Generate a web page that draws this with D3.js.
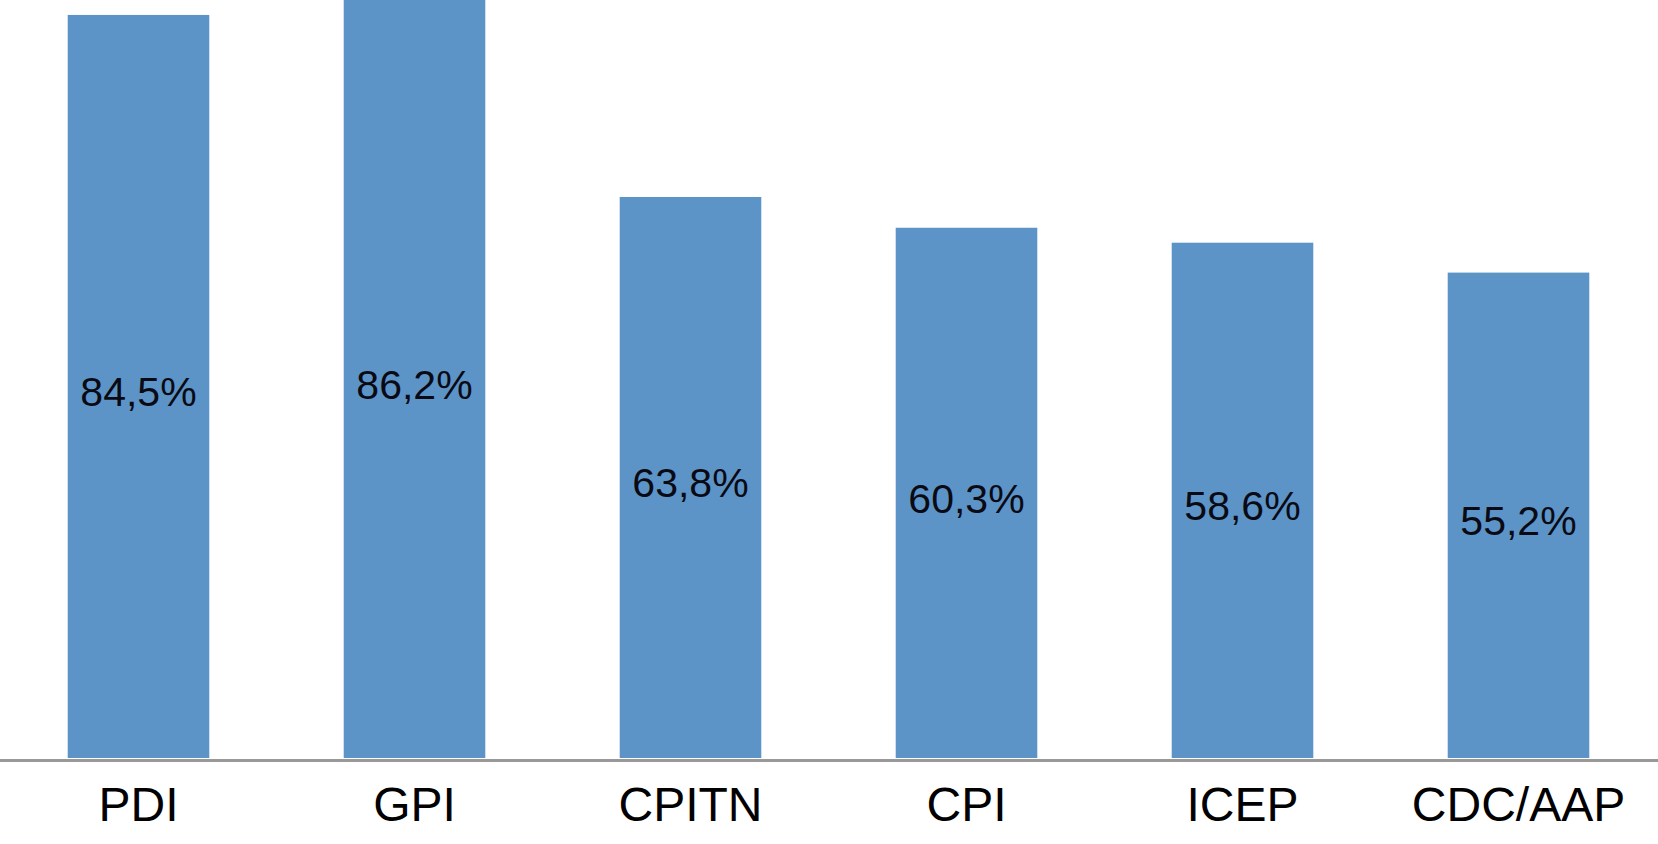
<!DOCTYPE html>
<html>
<head>
<meta charset="utf-8">
<script src="https://cdn.jsdelivr.net/npm/d3@7"></script>
<style>
  html, body { margin: 0; padding: 0; background: #fff; }
  svg { display: block; }
</style>
</head>
<body>
<script>
const categories = ["PDI", "GPI", "CPITN", "CPI", "ICEP", "CDC/AAP"];
const values = [84.5, 86.2, 63.8, 60.3, 58.6, 55.2];
const valueLabels = ["84,5%", "86,2%", "63,8%", "60,3%", "58,6%", "55,2%"];

const width = 1658, height = 844;
const baseY = 758;

const svg = d3.select("body")
  .append("svg")
  .attr("width", width)
  .attr("height", height);

const x = d3.scaleBand()
  .domain(categories)
  .range([0.5, 1656.5])
  .paddingInner(0.487)
  .paddingOuter(0.2435);

const y = d3.scaleLinear()
  .domain([0, 86.2])
  .range([baseY, 0]);

const data = categories.map((c, i) => ({ cat: c, v: values[i], label: valueLabels[i] }));

svg.selectAll("rect.bar")
  .data(data)
  .join("rect")
  .attr("class", "bar")
  .attr("x", d => x(d.cat))
  .attr("width", x.bandwidth())
  .attr("y", d => y(d.v))
  .attr("height", d => baseY - y(d.v))
  .attr("fill", "#5d94c7");

// value labels in the middle of each bar
svg.selectAll("text.val")
  .data(data)
  .join("text")
  .attr("class", "val")
  .attr("x", d => x(d.cat) + x.bandwidth() / 2)
  .attr("y", d => (y(d.v) + baseY) / 2 + 20)
  .attr("text-anchor", "middle")
  .style("font-family", "Liberation Sans, Arial, sans-serif")
  .style("font-size", "41px")
  .attr("fill", "#0a0a14")
  .text(d => d.label);

// baseline
svg.append("line")
  .attr("x1", 0)
  .attr("x2", width)
  .attr("y1", baseY + 2.5)
  .attr("y2", baseY + 2.5)
  .attr("stroke", "#999")
  .attr("stroke-width", 3);

// category labels
svg.selectAll("text.cat")
  .data(data)
  .join("text")
  .attr("class", "cat")
  .attr("x", d => x(d.cat) + x.bandwidth() / 2)
  .attr("y", 821)
  .attr("text-anchor", "middle")
  .style("font-family", "Liberation Sans, Arial, sans-serif")
  .style("font-size", "48px")
  .attr("fill", "#000")
  .text(d => d.cat);
</script>
</body>
</html>
